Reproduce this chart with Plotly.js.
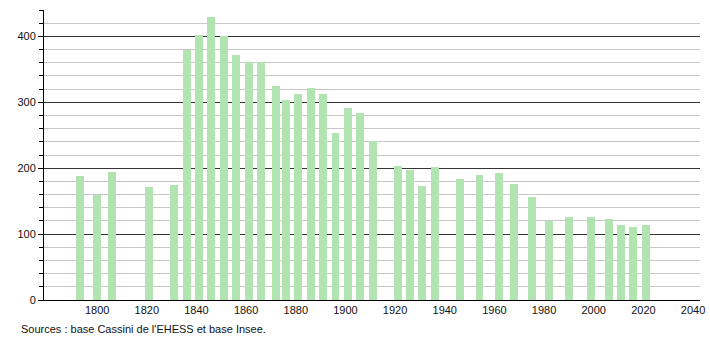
<!DOCTYPE html>
<html>
<head>
<meta charset="utf-8">
<script src="https://cdn.plot.ly/plotly-3.0.1.min.js"></script>
<style>html,body{margin:0;padding:0;background:#fff;}#chart{width:710px;height:340px;}</style>
</head>
<body>
<div id="chart"></div>
<script>
const years = [1793,1800,1806,1821,1831,1836,1841,1846,1851,1856,1861,1866,1872,1876,1881,1886,1891,1896,1901,1906,1911,1921,1926,1931,1936,1946,1954,1962,1968,1975,1982,1990,1999,2006,2011,2016,2021];
const population = [188,159,194,172,175,380,402,429,400,372,361,361,324,303,313,322,312,253,292,283,242,204,198,173,202,184,190,193,176,157,120,126,126,123,114,111,114];
const xTicks = [1800,1820,1840,1860,1880,1900,1920,1940,1960,1980,2000,2020,2040];
const yTicks = [0,100,200,300,400];
const sourceText = "Sources : base Cassini de l'EHESS et base Insee.";

const trace = {
  type: 'bar',
  x: years,
  y: population,
  width: 3.2,
  marker: {color: '#b2e4b2', line: {width: 0}},
  hoverinfo: 'x+y'
};

const layout = {
  width: 710, height: 340,
  margin: {l: 44, r: 10, t: 10, b: 40},
  paper_bgcolor: '#fff', plot_bgcolor: '#fff',
  font: {family: 'Liberation Sans, Arial, sans-serif', size: 11, color: '#111'},
  showlegend: false,
  bargap: 0,
  xaxis: {
    range: [1778.6, 2042.8],
    tickvals: xTicks,
    ticktext: xTicks.map(String),
    showgrid: false, zeroline: false,
    showline: true, linecolor: '#000', linewidth: 1,
    ticks: '', ticklen: 0,
    tickfont: {size: 11, color: '#111'}
  },
  yaxis: {
    range: [0, 440],
    tickvals: yTicks,
    ticktext: yTicks.map(String),
    showgrid: true, gridcolor: '#333', gridwidth: 1,
    zeroline: false,
    showline: true, linecolor: '#000', linewidth: 1,
    ticks: 'outside', ticklen: 5, tickcolor: '#000',
    minor: {dtick: 20, showgrid: true, gridcolor: '#c8c8c8', gridwidth: 1, ticks: 'outside', ticklen: 4, tickcolor: '#000'},
    tickfont: {size: 11, color: '#111'}
  },
  annotations: [{
    text: sourceText, xref: 'paper', yref: 'paper',
    x: -0.038, y: -0.072, xanchor: 'left', yanchor: 'top',
    showarrow: false, font: {size: 11, color: '#111'}
  }]
};

Plotly.newPlot('chart', [trace], layout, {displayModeBar: false, staticPlot: true});
</script>
</body>
</html>
